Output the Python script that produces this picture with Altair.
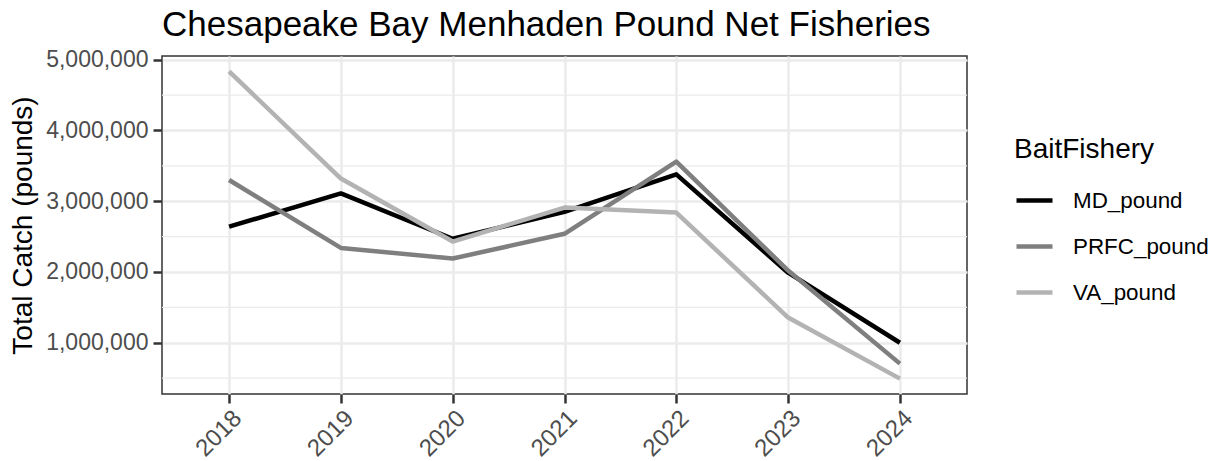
import altair as alt
import pandas as pd

years = [2018, 2019, 2020, 2021, 2022, 2023, 2024]
md_pound = [2640000, 3110000, 2470000, 2850000, 3380000, 1990000, 1000000]
prfc_pound = [3300000, 2340000, 2190000, 2540000, 3560000, 2020000, 705000]
va_pound = [4835000, 3320000, 2430000, 2910000, 2840000, 1356000, 493000]
series_names = ["MD_pound", "PRFC_pound", "VA_pound"]
series_colors = ["#000000", "#7f7f7f", "#b3b3b3"]
y_major = [1000000, 2000000, 3000000, 4000000, 5000000]
y_minor = [500000, 1500000, 2500000, 3500000, 4500000]

rows = []
for name, vals in zip(series_names, [md_pound, prfc_pound, va_pound]):
    for yr, v in zip(years, vals):
        rows.append({"Year": yr, "BaitFishery": name, "Catch": v})
df = pd.DataFrame(rows)

all_vals = md_pound + prfc_pound + va_pound
lo, hi = min(all_vals), max(all_vals)
rng = hi - lo
y_dom = [lo - 0.05 * rng, hi + 0.05 * rng]
x_dom = [min(years) - 0.6, max(years) + 0.6]

FONT = "Liberation Sans"

yscale = alt.Scale(domain=y_dom, nice=False, zero=False)
yaxis = alt.Axis(
    values=y_major, format=",d", title="Total Catch (pounds)",
    titleFontSize=28, titleFont=FONT, titleColor="#000000",
    titleFontWeight="normal", titlePadding=8,
    labelFontSize=23, labelColor="#4d4d4d", labelFont=FONT,
    tickSize=9, tickWidth=2.5, tickColor="#333333", labelPadding=5,
    domain=False, grid=True, gridColor="#ebebeb", gridWidth=2.5,
)

minor = alt.Chart(pd.DataFrame({"Catch": y_minor})).mark_rule(
    color="#ebebeb", strokeWidth=1.3
).encode(y=alt.Y("Catch:Q", scale=yscale, axis=yaxis))

lines = alt.Chart(df).mark_line(strokeWidth=4.5, strokeJoin="round", strokeCap="butt").encode(
    x=alt.X(
        "Year:Q",
        scale=alt.Scale(domain=x_dom, nice=False, zero=False),
        axis=alt.Axis(
            values=years, format="d", title=None, labelAngle=315,
            labelAlign="right", labelBaseline="top",
            labelFontSize=24, labelColor="#4d4d4d", labelFont=FONT,
            tickSize=9, tickWidth=2.5, tickColor="#333333", labelPadding=3,
            domain=False, grid=True, gridColor="#ebebeb", gridWidth=2.5,
        ),
    ),
    y=alt.Y("Catch:Q", scale=yscale, axis=yaxis),
    color=alt.Color(
        "BaitFishery:N",
        scale=alt.Scale(domain=series_names, range=series_colors),
        legend=alt.Legend(
            orient="none", legendX=852, legendY=80,
            title="BaitFishery", titleFontSize=28, titleFont=FONT,
            titleFontWeight="normal", titleColor="#000000", titlePadding=16,
            labelFontSize=22.4, labelFont=FONT, labelColor="#000000",
            symbolType="stroke", symbolSize=1296, symbolStrokeWidth=4.5,
            labelOffset=18, rowPadding=14, padding=0,
        ),
    ),
)

chart = alt.layer(minor, lines).properties(
    width=805,
    height=338,
    background="white",
    title=alt.TitleParams(
        "Chesapeake Bay Menhaden Pound Net Fisheries",
        anchor="start", frame="group", fontSize=35, font=FONT,
        fontWeight="normal", color="#000000", baseline="alphabetic", offset=-22,
    ),
    autosize=alt.AutoSizeParams(type="none"),
    padding={"left": 154, "top": 48, "right": 245, "bottom": 67},
).configure_view(stroke="#333333", strokeWidth=1.5)

chart.save("out.html", embed_options={"renderer": "svg", "actions": False})
